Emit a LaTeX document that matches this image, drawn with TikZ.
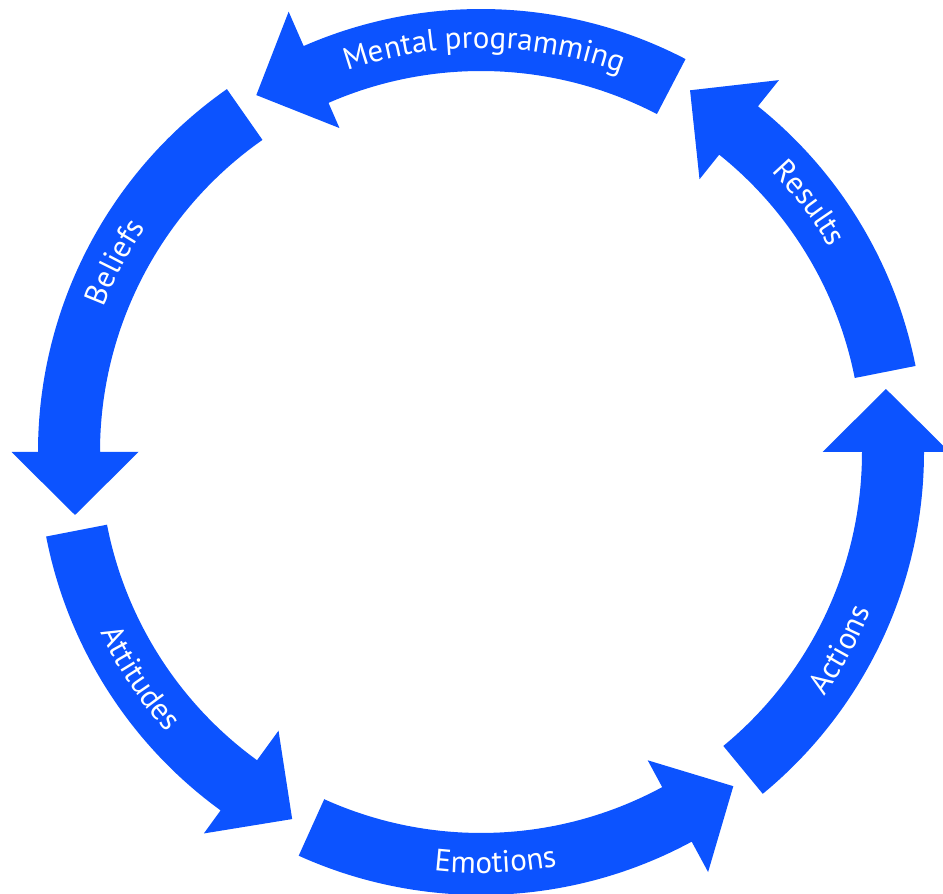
\documentclass[tikz,border=0pt]{standalone}
\usepackage{fontspec}
\newfontfamily\ptsans{PT Sans}
\usetikzlibrary{decorations.text}

\definecolor{cycleblue}{RGB}{12,83,255}

\tikzset{
  cyclelabel/.style={decorate, decoration={text along path, text align=center,
      text color=white, text={|\ptsans\fontsize{31}{31}\selectfont|#1}}}
}

\begin{document}
\begin{tikzpicture}[x=1pt,y=1pt]
  \useasboundingbox (0,0) rectangle (943,894);
  \coordinate (ctr) at (481,442);

  \begin{scope}[shift={(ctr)}]
    % arrows: tail angle / base of head / radius of head axis
    \foreach \t/\b/\h in {11.2/51.3/413, 62.5/113.6/417, 125/180/406,
                          191/234/408, 245.7/298.4/414, 309.5/360/405}{
      \pgfmathsetmacro\da{atan(63/\h)}
      \pgfmathsetmacro\rt{\h/cos(\da)}
      \fill[cycleblue] (\t:443) arc[start angle=\t, end angle=\b, radius=443]
        -- (\b:{\h+63.5}) -- ({\b+\da}:\rt) -- (\b:{\h-63.5})
        -- (\b:381) arc[start angle=\b, end angle=\t, radius=381] -- cycle;
    }

    % labels, tops outward
    \path[cyclelabel={Results}] (77.2:404) arc[start angle=77.2, end angle=-2.8, radius=404];
    \path[cyclelabel={Mental programming}] (129.5:404) arc[start angle=129.5, end angle=49.5, radius=404];
    \path[cyclelabel={Beliefs}] (192.6:404) arc[start angle=192.6, end angle=112.6, radius=404];
    % labels, tops inward
    \path[cyclelabel={Attitudes}] (173.6:421) arc[start angle=173.6, end angle=253.6, radius=421];
    \path[cyclelabel={Emotions}] (232:421) arc[start angle=232, end angle=312, radius=421];
    \path[cyclelabel={Actions}] (291.2:421) arc[start angle=291.2, end angle=371.2, radius=421];
  \end{scope}
\end{tikzpicture}
\end{document}
